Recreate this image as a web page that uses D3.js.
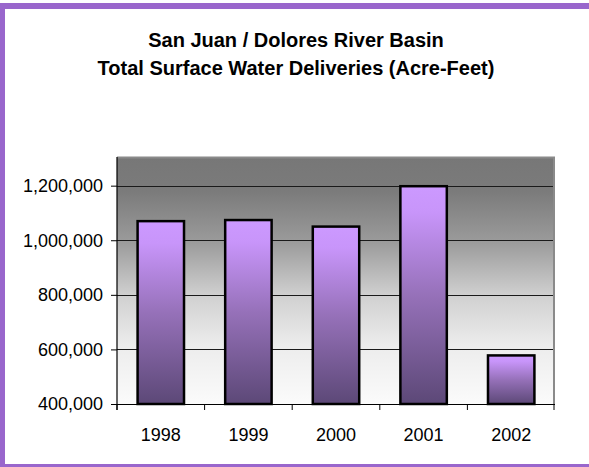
<!DOCTYPE html>
<html>
<head>
<meta charset="utf-8">
<script src="https://cdn.jsdelivr.net/npm/d3@7"></script>
<style>
  html, body { margin: 0; padding: 0; background: #fff; }
  svg { display: block; }
</style>
</head>
<body>
<svg id="chart" width="589" height="467"></svg>
<script>
const titleLines = ["San Juan / Dolores River Basin", "Total Surface Water Deliveries (Acre-Feet)"];
const years = ["1998", "1999", "2000", "2001", "2002"];
const deliveries = [1070000, 1074000, 1050000, 1198000, 578000];
const yTicks = [400000, 600000, 800000, 1000000, 1200000];
const yDomain = [400000, 1305000];

const W = 589, H = 467;
const plot = { left: 117, right: 555, top: 157, bottom: 404 };
const svg = d3.select("#chart");
const font = "'Liberation Sans', Arial, sans-serif";

const defs = svg.append("defs");
const bg = defs.append("linearGradient").attr("id", "bgGrad")
  .attr("x1", 0).attr("y1", 0).attr("x2", 0).attr("y2", 1);
[[0, "#777777"], [0.14, "#7b7b7b"], [0.35, "#9c9c9c"], [0.56, "#d0d0d0"], [0.76, "#ececec"], [1, "#fbfbfb"]]
  .forEach(([o, c]) => bg.append("stop").attr("offset", o).attr("stop-color", c));
const bar = defs.append("linearGradient").attr("id", "barGrad")
  .attr("x1", 0).attr("y1", 0).attr("x2", 0).attr("y2", 1);
[[0, "#cc99ff"], [0.12, "#c895fa"], [0.5, "#9671b9"], [1, "#5c4877"]]
  .forEach(([o, c]) => bar.append("stop").attr("offset", o).attr("stop-color", c));

// Outer purple frame
svg.append("rect").attr("x", 0).attr("y", 3).attr("width", W).attr("height", 6).attr("fill", "#9966cc");
svg.append("rect").attr("x", 0).attr("y", 3).attr("width", 5).attr("height", H - 3).attr("fill", "#9966cc");
svg.append("rect").attr("x", 0).attr("y", 464).attr("width", W).attr("height", 3).attr("fill", "#9966cc");

// Title
const title = svg.append("text").attr("x", 296).attr("text-anchor", "middle")
  .attr("font-family", font).attr("font-weight", "bold").attr("font-size", 20).attr("fill", "#000");
titleLines.forEach((t, i) => title.append("tspan").attr("x", 296).attr("y", 47 + i * 28).text(t));

const x = d3.scaleBand().domain(years).range([plot.left, plot.right]).paddingInner(0.47).paddingOuter(0.235);
const xb = d3.scaleBand().domain(years).range([plot.left, plot.right]);
const y = d3.scaleLinear().domain(yDomain).range([plot.bottom, plot.top]);

// Plot background
svg.append("rect").attr("x", plot.left).attr("y", plot.top)
  .attr("width", plot.right - plot.left).attr("height", plot.bottom - plot.top)
  .attr("fill", "url(#bgGrad)");
// plot border (top, right)
svg.append("path")
  .attr("d", `M${plot.left},${plot.top + 0.5}H${plot.right - 1}V${plot.bottom}`)
  .attr("fill", "none").attr("stroke", "#8a8a8a").attr("stroke-width", 2);

// Gridlines
svg.append("g").selectAll("line").data(yTicks.filter(v => v > yDomain[0])).join("line")
  .attr("x1", plot.left).attr("x2", plot.right - 2)
  .attr("y1", d => Math.round(y(d)) + 0.5).attr("y2", d => Math.round(y(d)) + 0.5)
  .attr("stroke", "#1a1a1a").attr("stroke-width", 1);

// Bars
svg.append("g").selectAll("rect").data(years).join("rect")
  .attr("x", d => x(d)).attr("width", x.bandwidth())
  .attr("y", (d, i) => y(deliveries[i]))
  .attr("height", (d, i) => y(yDomain[0]) - y(deliveries[i]))
  .attr("fill", "url(#barGrad)").attr("stroke", "#000").attr("stroke-width", 2.5);

// Y axis
const yAxis = svg.append("g").attr("transform", `translate(${plot.left},0)`)
  .call(d3.axisLeft(y).tickValues(yTicks).tickSize(6).tickPadding(8).tickFormat(d3.format(",")));
yAxis.select(".domain").attr("d", `M0,${plot.top}V${plot.bottom + 6}`).attr("stroke", "#000").attr("stroke-width", 1.2);
yAxis.selectAll(".tick line").attr("stroke", "#000");
yAxis.selectAll("text").attr("font-family", font).attr("font-size", 18).attr("fill", "#000");

// X axis
const xAxis = svg.append("g").attr("transform", `translate(0,${plot.bottom})`);
xAxis.append("line").attr("x1", plot.left).attr("x2", plot.right).attr("y1", 0.5).attr("y2", 0.5)
  .attr("stroke", "#000").attr("stroke-width", 1.2);
const bounds = years.map(d => xb(d)).concat([plot.right - 1]);
xAxis.selectAll("line.tk").data(bounds).join("line").attr("class", "tk")
  .attr("x1", d => d).attr("x2", d => d).attr("y1", 0).attr("y2", 6)
  .attr("stroke", "#000").attr("stroke-width", 1);
xAxis.selectAll("text").data(years).join("text")
  .attr("x", d => xb(d) + xb.bandwidth() / 2).attr("y", 37)
  .attr("text-anchor", "middle").attr("font-family", font).attr("font-size", 18).attr("fill", "#000")
  .text(d => d);
</script>
</body>
</html>
